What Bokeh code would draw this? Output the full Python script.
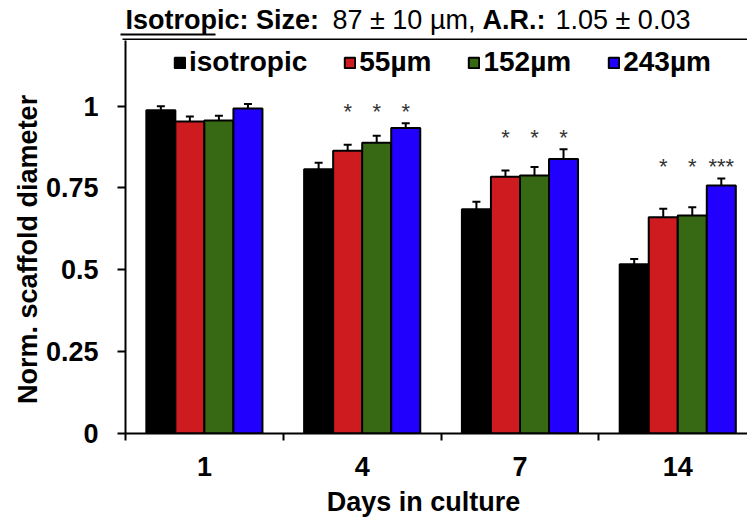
from math import pi
import numpy as np
from bokeh.plotting import figure
from bokeh.layouts import column, row
from bokeh.models import (Range1d, FixedTicker, CustomJSTickFormatter, Whisker, TeeHead,
                          ColumnDataSource)
from bokeh.core.properties import value
from bokeh.embed import file_html
from bokeh.resources import INLINE

# ---------------- data ----------------
days = ["1", "4", "7", "14"]
series = ["isotropic", "55µm", "152µm", "243µm"]
colors = ["#000000", "#CD1B20", "#376915", "#2200FE"]

mean_isotropic = [0.987, 0.807, 0.685, 0.517]
mean_55 = [0.953, 0.863, 0.784, 0.660]
mean_152 = [0.956, 0.888, 0.788, 0.666]
mean_243 = [0.992, 0.933, 0.838, 0.757]

err_isotropic = [0.012, 0.020, 0.023, 0.016]
err_55 = [0.015, 0.019, 0.019, 0.026]
err_152 = [0.014, 0.021, 0.026, 0.025]
err_243 = [0.014, 0.014, 0.030, 0.022]

sig_isotropic = ["", "", "", ""]
sig_55 = ["", "*", "*", "*"]
sig_152 = ["", "*", "*", "*"]
sig_243 = ["", "*", "*", "***"]

title_parts = ["Isotropic: Size:", "87 ± 10 µm,", "A.R.:", "1.05 ± 0.03"]
title_styles = ["bold", "normal", "bold", "normal"]
y_title = "Norm. scaffold diameter"
x_title = "Days in culture"

y_ticks = [0, 0.25, 0.5, 0.75, 1]

means = [mean_isotropic, mean_55, mean_152, mean_243]
errs = [err_isotropic, err_55, err_152, err_243]
sigs = [sig_isotropic, sig_55, sig_152, sig_243]

FONT = "Liberation Sans"


def helper_fig(w, h, x0, x1, top, bottom):
    # a strip without axes; its ranges are expressed in page pixels
    f = figure(width=w, height=h, output_backend="svg", toolbar_location=None,
               x_range=Range1d(x0, x1), y_range=Range1d(-bottom, -top),
               x_axis_type=None, y_axis_type=None,
               min_border=0, min_border_left=0, min_border_right=0,
               min_border_top=0, min_border_bottom=0)
    f.outline_line_color = None
    f.grid.visible = False
    return f


# ---------------- title strip (page 0..747 x 0..40) ----------------
tf = helper_fig(747, 40, 0, 747, 0, 40)
title_x = [125, 332, 482, 555]
for txt, style, xx in zip(title_parts, title_styles, title_x):
    tf.text(x=[xx], y=[-19], text=[txt], text_align="left", text_baseline="middle",
            text_font=value(FONT), text_font_style=style, text_font_size="27px",
            text_color="black")
tf.segment(x0=[120], y0=[-34], x1=[215], y1=[-34], line_color="black", line_width=2)
tf.segment(x0=[122], y0=[-39], x1=[747], y1=[-39], line_color="black", line_width=2)

# ---------------- y-title strip (page 0..42 x 40..484) ----------------
yf = helper_fig(42, 444, 0, 42, 40, 484)
yf.text(x=[27], y=[-276], text=[y_title], angle=pi / 2, text_align="center",
        text_baseline="middle", text_font=value(FONT), text_font_style="bold",
        text_font_size="27px", text_color="black")

# ---------------- x-title strip (page 0..747 x 484..520) ----------------
xf = helper_fig(747, 36, 0, 747, 484, 520)
xf.text(x=[423], y=[-501], text=[x_title], text_align="center", text_baseline="middle",
        text_font=value(FONT), text_font_style="bold", text_font_size="27px",
        text_color="black")

# ---------------- main chart ----------------
p = figure(width=705, height=444, output_backend="svg", toolbar_location=None,
           x_range=Range1d(-0.5, 3.442), y_range=Range1d(0, 1.2),
           min_border_left=81, min_border_right=0, min_border_top=0, min_border_bottom=51)
p.outline_line_color = None
p.grid.visible = False

bar_w = 0.184
offsets = [-1.5 * bar_w, -0.5 * bar_w, 0.5 * bar_w, 1.5 * bar_w]
gidx = np.arange(len(days))

# significance markers sit just above the highest error bar of each group
group_top = np.max(np.array(means) + np.array(errs), axis=0)

for k in range(len(series)):
    xs = gidx + offsets[k]
    m = np.array(means[k])
    e = np.array(errs[k])
    src = ColumnDataSource(dict(x=xs, top=m, lower=m, upper=m + e))
    p.vbar(x="x", top="top", width=bar_w, source=src, fill_color=colors[k],
           line_color="black", line_width=2, legend_label=series[k])
    w = Whisker(base="x", lower="lower", upper="upper", source=src,
                line_color="black", line_width=2,
                upper_head=TeeHead(size=8, line_width=2, line_color="black"),
                lower_head=None)
    p.add_layout(w)
    ssrc = ColumnDataSource(dict(x=xs, y=group_top + 0.048, t=sigs[k]))
    p.text(x="x", y="y", text="t", source=ssrc, text_align="center", text_baseline="middle",
           text_font=value(FONT), text_font_size="22px", text_color="#333333", y_offset=4)

ya = p.yaxis[0]
ya.ticker = FixedTicker(ticks=y_ticks)
ya.formatter = CustomJSTickFormatter(code="return tick.toString()")
ya.axis_line_width = 2
ya.major_tick_line_width = 2
ya.major_tick_out = 8
ya.major_tick_in = 0
ya.minor_tick_line_color = None
ya.major_label_standoff = 19
ya.major_label_text_font = FONT
ya.major_label_text_font_style = "bold"
ya.major_label_text_font_size = "27px"
ya.major_label_text_color = "black"

xa = p.xaxis[0]
xa.ticker = FixedTicker(ticks=list(range(len(days))),
                        minor_ticks=[i - 0.5 for i in range(len(days) + 1)])
xa.formatter = CustomJSTickFormatter(args=dict(labels=days),
                                     code="return labels[Math.round(tick)]")
xa.axis_line_width = 2
xa.major_tick_out = 0
xa.major_tick_in = 0
xa.major_tick_line_color = None
xa.minor_tick_line_color = "black"
xa.minor_tick_line_width = 2
xa.minor_tick_out = 7
xa.minor_tick_in = 0
xa.major_label_standoff = 16
xa.major_label_text_font = FONT
xa.major_label_text_font_style = "bold"
xa.major_label_text_font_size = "27px"
xa.major_label_text_color = "black"

lg = p.legend[0]
lg.orientation = "horizontal"
lg.location = (48, 355)
lg.padding = 0
lg.margin = 0
lg.spacing = 36
lg.label_standoff = 3
lg.glyph_width = 13
lg.glyph_height = 13
lg.border_line_color = None
lg.background_fill_alpha = 0
lg.label_text_font = FONT
lg.label_text_font_style = "bold"
lg.label_text_font_size = "28px"
lg.label_text_color = "black"

layout = column(tf, row(yf, p, spacing=0), xf, spacing=0)
open("out.html", "w").write(file_html(layout, INLINE))
